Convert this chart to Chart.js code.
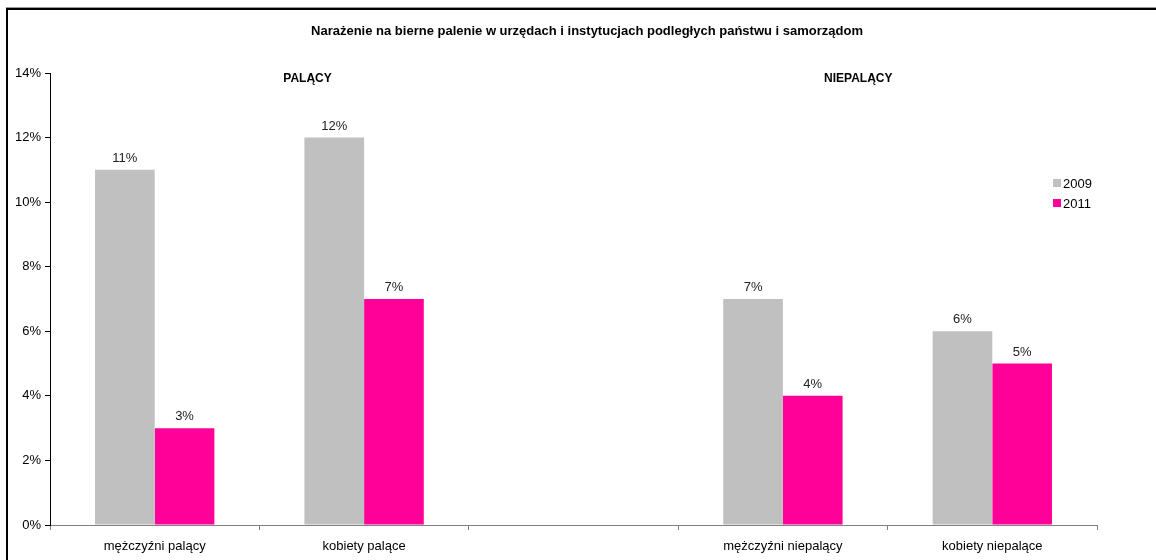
<!DOCTYPE html>
<html>
<head>
<meta charset="utf-8">
<script src="https://cdn.jsdelivr.net/npm/chart.js@4.4.1/dist/chart.umd.min.js"></script>
<style>
  body { margin: 0; background: #fff; }
  #wrap { position: relative; width: 1156px; height: 560px; }
  #frame { position: absolute; left: 6px; top: 8px; right: 0; bottom: 0;
           border-left: 2px solid #000; border-top: 2px solid #000; box-shadow: 0 -1px 0 #999; }
  canvas { position: absolute; left: 0; top: 0; }
</style>
</head>
<body>
<div id="wrap">
  <div id="frame"></div>
  <canvas id="myChart" width="1156" height="560"></canvas>
</div>
<script>
// dane z wykresu
var categories = ["mężczyźni palący", "kobiety palące", "", "mężczyźni niepalący", "kobiety niepalące"];
var y2009 = [11, 12, null, 7, 6];
var y2011 = [3, 7, null, 4, 5];
var seriesNames = ["2009", "2011"];
var yTicks = [0, 2, 4, 6, 8, 10, 12, 14];
var groupLabels = ["PALĄCY", "NIEPALĄCY"];
var groupPos = [0.73, 3.36]; // pozycja na osi kategorii
var title = "Narażenie na bierne palenie w urzędach i instytucjach podległych państwu i samorządom";

var FONT = "'Liberation Sans', Arial, sans-serif";
var colors = ["#C0C0C0", "#FF0099"];

// tytul, napisy nad slupkami, grupy i legenda
const extras = {
  id: "extras",
  afterDatasetsDraw(chart) {
    const c = chart.ctx;
    c.save();
    c.fillStyle = "#000";
    c.font = "bold 13px " + FONT;
    c.textAlign = "center";
    c.textBaseline = "middle";
    c.fillText(title, 587, 31);

    c.fillStyle = "#222";
    c.font = "13px " + FONT;
    c.textBaseline = "bottom";
    chart.data.datasets.forEach((ds, i) => {
      chart.getDatasetMeta(i).data.forEach((bar, j) => {
        if (ds.data[j] == null) return;
        c.fillText(ds.data[j] + "%", bar.x, bar.y - 5);
      });
    });
    const xs = chart.scales.x, ys = chart.scales.y;
    c.fillStyle = "#000";
    c.font = "bold 12px " + FONT;
    c.textBaseline = "middle";
    groupLabels.forEach((t, i) => {
      c.fillText(t, xs.getPixelForValue(groupPos[i]), ys.getPixelForValue(13.88) + 2);
    });
    // legenda
    c.font = "13px " + FONT;
    c.textAlign = "left";
    seriesNames.forEach((n, i) => {
      const y = 183 + i * 20;
      c.fillStyle = colors[i];
      c.fillRect(1053, y - 4, 8, 8);
      c.fillStyle = "#000";
      c.fillText(n, 1063, y + 1);
    });
    c.restore();
  }
};

new Chart(document.getElementById("myChart"), {
  type: "bar",
  data: {
    labels: categories,
    datasets: [
      { label: seriesNames[0], data: y2009, backgroundColor: colors[0], categoryPercentage: 0.57, barPercentage: 1.0 },
      { label: seriesNames[1], data: y2011, backgroundColor: colors[1], categoryPercentage: 0.57, barPercentage: 1.0 }
    ]
  },
  options: {
    responsive: false,
    animation: false,
    layout: { padding: { left: 0, right: 59, top: 73, bottom: 0 } },
    plugins: {
      legend: { display: false },
      tooltip: { enabled: false },
      title: { display: false }
    },
    scales: {
      x: {
        grid: { drawOnChartArea: false, tickLength: 5, color: "#808080", offset: true },
        border: { color: "#808080", width: 1 },
        ticks: { color: "#000", font: { family: FONT, size: 13 }, padding: 9, maxRotation: 0 },
        afterFit: s => { s.height = 35; }
      },
      y: {
        min: 0, max: 14,
        afterBuildTicks: s => { s.ticks = yTicks.map(v => ({ value: v })); },
        grid: { drawOnChartArea: false, tickLength: 5, color: "#000" },
        border: { color: "#000", width: 1 },
        ticks: { color: "#000", font: { family: FONT, size: 13 }, padding: 4, callback: v => v + "%" },
        afterFit: s => { s.width = 50; }
      }
    }
  },
  plugins: [extras]
});
</script>
</body>
</html>
